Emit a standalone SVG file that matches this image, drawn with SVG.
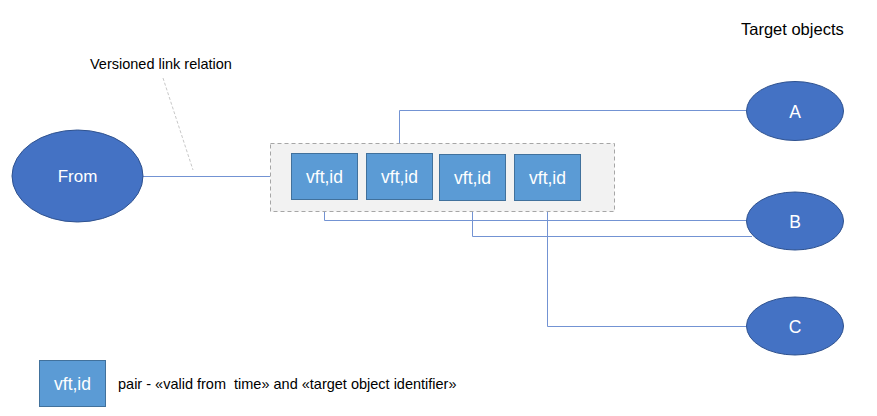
<svg xmlns="http://www.w3.org/2000/svg" width="877" height="416" viewBox="0 0 877 416">
<style>
  text { font-family: "Liberation Sans", "DejaVu Sans", sans-serif; }
  .ell { fill: #4472c4; stroke: #2f528f; stroke-width: 1; }
  .pair { fill: #5b9bd5; stroke: #41719c; stroke-width: 1; }
  .wt { fill: #ffffff; text-anchor: middle; dominant-baseline: central; }
  .vft { font-size: 17.5px; }
  .conn { fill: none; stroke: #7393d3; stroke-width: 1; }
  .lbl { fill: #000000; font-size: 14.5px; }
</style>
<rect width="877" height="416" fill="#ffffff"/>

<g id="connectors">
  <line class="conn" x1="143" y1="176.5" x2="270" y2="176.5"/>
  <polyline class="conn" points="399.5,153 399.5,110.5 746,110.5"/>
  <polyline class="conn" points="324.5,199 324.5,220.5 746,220.5"/>
  <polyline class="conn" points="472.5,200 472.5,236.5 752,236.5"/>
  <polyline class="conn" points="547.5,200 547.5,326.5 746,326.5"/>
  <line x1="163" y1="78" x2="193" y2="170" stroke="#c8c8c8" stroke-width="1" stroke-dasharray="3,2"/>
</g>

<g id="label-versioned">
  <text class="lbl" x="90" y="69">Versioned link relation</text>
</g>

<g id="label-target">
  <text x="741" y="35" font-size="16.5" fill="#000000">Target objects</text>
</g>

<g id="from">
  <ellipse class="ell" cx="77.5" cy="176" rx="65.5" ry="46"/>
  <text class="wt" x="77.5" y="176" font-size="17">From</text>
</g>

<g id="group-box">
  <rect x="270.5" y="143.5" width="344" height="68" fill="#f2f2f2" stroke="#a6a6a6" stroke-width="1" stroke-dasharray="4,3"/>
</g>

<g id="pair1">
  <rect class="pair" x="291.5" y="153.5" width="66" height="46"/>
  <text class="wt vft" x="324.5" y="176.5">vft,id</text>
</g>
<g id="pair2">
  <rect class="pair" x="366.5" y="153.5" width="66" height="46"/>
  <text class="wt vft" x="399.5" y="176.5">vft,id</text>
</g>
<g id="pair3">
  <rect class="pair" x="439.5" y="154.5" width="66" height="46"/>
  <text class="wt vft" x="472.5" y="177.5">vft,id</text>
</g>
<g id="pair4">
  <rect class="pair" x="514.5" y="154.5" width="66" height="46"/>
  <text class="wt vft" x="547.5" y="177.5">vft,id</text>
</g>

<g id="A">
  <ellipse class="ell" cx="795" cy="111" rx="48.5" ry="29.5"/>
  <text class="wt" x="795" y="111.5" font-size="17.5">A</text>
</g>
<g id="B">
  <ellipse class="ell" cx="795" cy="221" rx="48.5" ry="29"/>
  <text class="wt" x="795" y="221.5" font-size="17.5">B</text>
</g>
<g id="C">
  <ellipse class="ell" cx="795" cy="326" rx="48.5" ry="29"/>
  <text class="wt" x="795" y="326.5" font-size="17.5">C</text>
</g>

<g id="legend">
  <rect class="pair" x="39.5" y="360.5" width="66" height="46"/>
  <text class="wt vft" x="72.5" y="383.5">vft,id</text>
  <text class="lbl" x="118" y="389" xml:space="preserve">pair - «valid from  time» and «target object identifier»</text>
</g>
</svg>
